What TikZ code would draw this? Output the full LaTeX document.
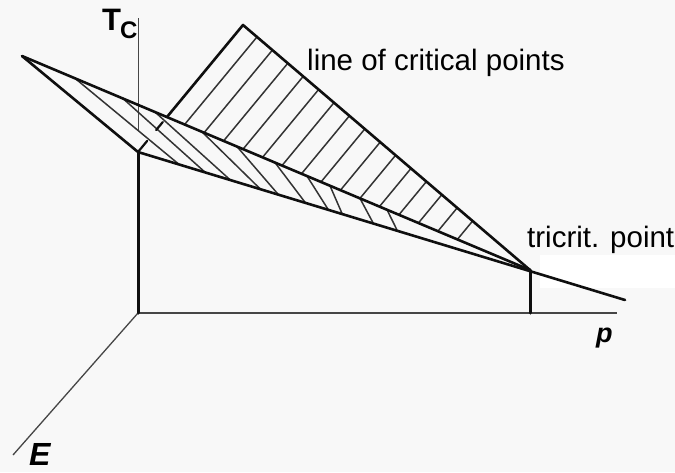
\documentclass[tikz,border=0pt]{standalone}
\usepackage{fontspec}
\setmainfont{Liberation Sans}
\usetikzlibrary{calc}
\definecolor{phbg}{RGB}{248,248,248}
\definecolor{phline}{RGB}{15,15,15}
\definecolor{phaxis}{RGB}{70,70,70}

\begin{document}
\begin{tikzpicture}[x=1pt, y=-1pt,
    edge/.style={line width=2.6pt, color=phline, line cap=round, line join=round},
    hatch/.style={line width=1.5pt, color=phline!85},
    axis/.style={line width=1.6pt, color=phaxis},
    lbl/.style={inner sep=0pt, anchor=base west, font=\fontsize{29.5}{32}\selectfont}
  ]
  % canvas
  \fill[phbg] (0,0) rectangle (675,472);
  \useasboundingbox (0,0) rectangle (675,472);
  \fill[white] (540,255) rectangle (675,288);

  % key points
  \coordinate (origin) at (138,313);
  \coordinate (corner) at (138,152);
  \coordinate (tip) at (22,56);
  \coordinate (top) at (243,25);
  \coordinate (tcp) at (530,270);
  \coordinate (tail) at (625,300);
  \coordinate (tcfoot) at (530,313);
  \coordinate (pend) at (617,313);
  \coordinate (eend) at (13,455);
  \coordinate (tcend) at (138,18);
  \coordinate (cross) at (intersection of top--corner and tip--tcp);

  % axes
  \draw[axis] (origin) -- (pend);
  \draw[axis, line width=1.3pt] (origin) -- (eend);
  \draw[line width=1pt, color=phaxis] (tcend) -- ($(tcend)!0.843!(corner)$);
  \draw[edge, line width=3pt] (corner) -- (origin);
  \draw[edge, line width=3pt] (tcp) -- (tcfoot);

  % hatching: plane of critical points
  \begin{scope}
    \clip (top) -- (tcp) -- (cross) -- cycle;
    \foreach \k in {0,...,14}
      \draw[hatch] ($(top)!{(14+15.4*\k)/287}!(tcp)$) -- ++(-105,127);
  \end{scope}

  % hatching: front plane
  \foreach \xu/\xl in {75/179, 123/205, 155/230, 202/260, 237/278, 275/305, 307/328, 330/342, 360/373, 387/397}
    \draw[hatch] ($(tip)!{(\xu-22)/508}!(tcp)$) -- ($(corner)!{(\xl-138)/392}!(tcp)$);

  % plane edges
  \draw[edge] (cross) -- (top) -- (tcp);
  \draw[edge] (tip) -- (tcp);
  \draw[edge] (tip) -- (corner) -- (tail);
  \draw[edge, line width=2.2pt] ($(top)!0.764!(corner)$) -- ($(top)!0.827!(corner)$);
  \draw[edge, line width=2.2pt] ($(top)!0.913!(corner)$) -- (corner);

  % labels
  \node[lbl] (critlbl) at (307,70) {line of critical points};
  \node[lbl] (triclbl) at (527,247) {tricrit. point};
  \node[lbl, font=\fontsize{31}{31}\selectfont\bfseries] (tclbl) at (102,30) {T\kern-1pt\raisebox{-8pt}{\fontsize{24}{24}\selectfont C}};
  \node[lbl, font=\fontsize{32}{32}\selectfont\bfseries\itshape] (elbl) at (29,465) {E};
  \node[lbl, font=\fontsize{27}{27}\selectfont\bfseries\itshape] (plbl) at (596,342) {p};
\end{tikzpicture}
\end{document}
